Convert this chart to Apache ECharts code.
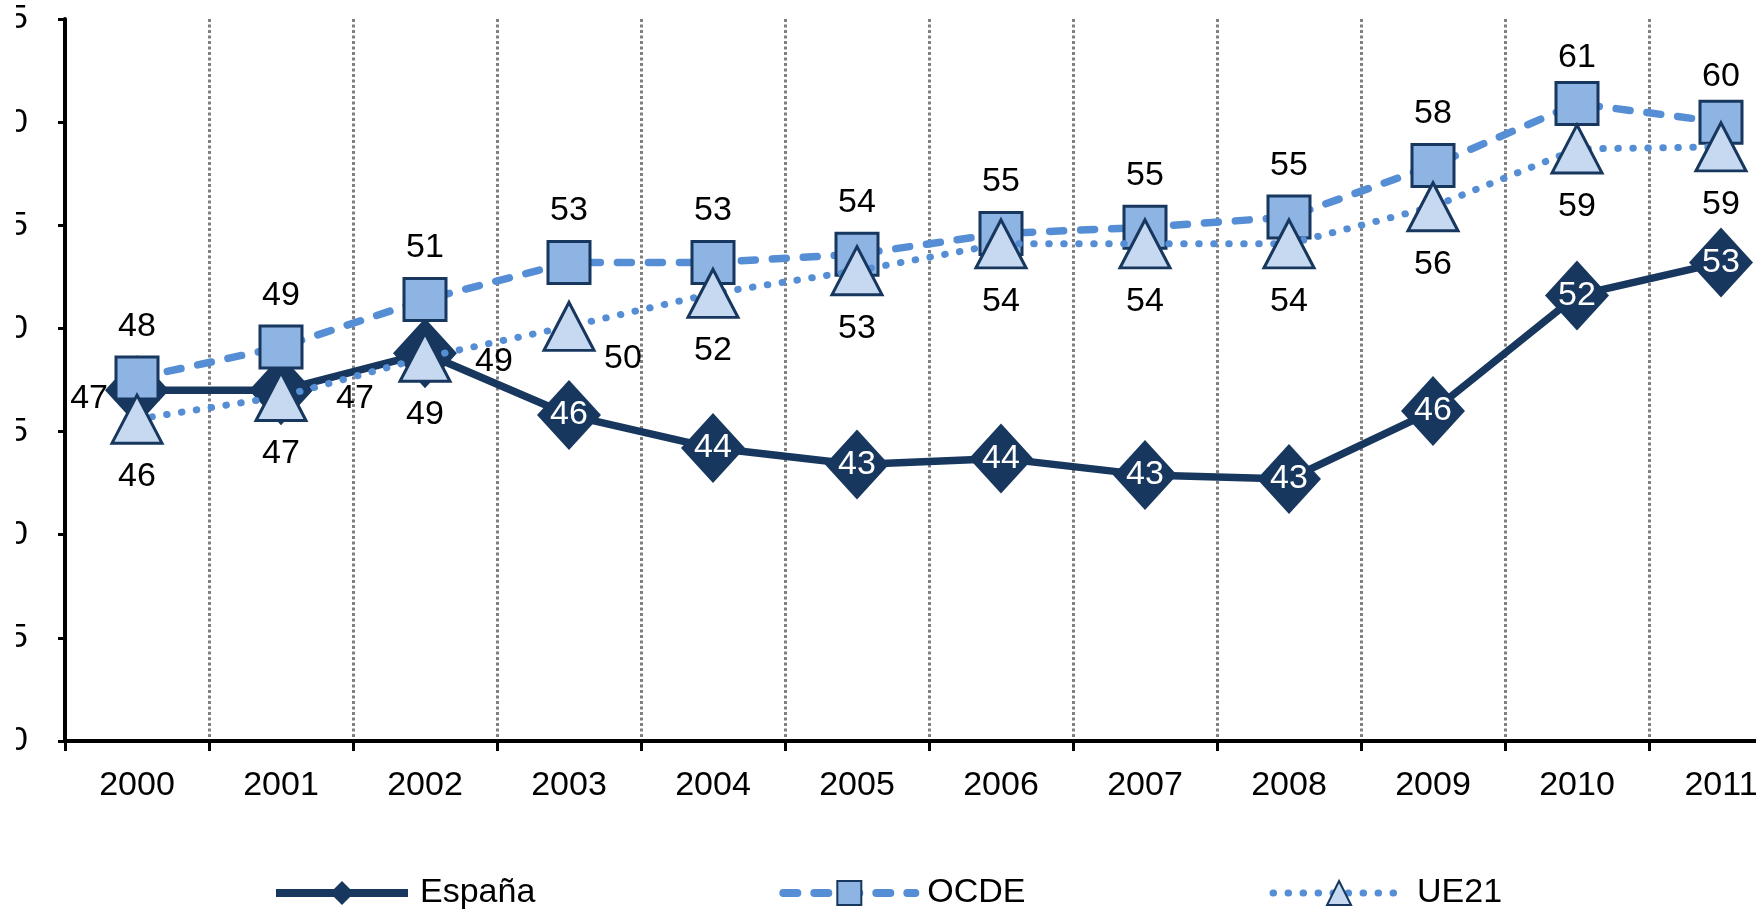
<!DOCTYPE html>
<html><head><meta charset="utf-8">
<script src="https://cdn.jsdelivr.net/npm/echarts@6/dist/echarts.min.js"></script>
<style>
html,body{margin:0;padding:0;background:#fff;width:1756px;height:912px;overflow:hidden}
#clip{position:absolute;left:16px;top:0;width:1740px;height:912px;overflow:hidden;background:#fff}
#chart{position:absolute;left:-40px;top:0;width:1900px;height:912px}
</style></head><body>
<div id="clip"><div id="chart"></div></div>
<script>
const years = ['2000','2001','2002','2003','2004','2005','2006','2007','2008','2009','2010','2011'];
const espana = [47.0, 47.0, 48.8, 45.8, 44.2, 43.4, 43.7, 42.9, 42.7, 46.0, 51.6, 53.2];
const ocde   = [47.6, 49.1, 51.4, 53.2, 53.2, 53.6, 54.6, 54.9, 55.4, 57.9, 60.9, 60.0];
const ue21   = [45.6, 46.7, 48.6, 50.1, 51.7, 52.8, 54.1, 54.1, 54.1, 55.9, 58.7, 58.8];
const yMin = 30, yMax = 65, yStep = 5;
const seriesNames = ['España', 'OCDE', 'UE21'];

const FONT = "'Liberation Sans', Arial, sans-serif";
const FS = 34;
const NAVY = '#17375e';
const MID = '#558ed5';
const round = p => Math.round(p.value);

const espanaData = espana.map((v, i) => {
  let label;
  if (i === 0) label = {position: 'left', distance: -3, offset: [0, 8]};
  else if (i === 1) label = {position: 'right', distance: 23, offset: [0, 8]};
  else if (i === 2) label = {position: 'right', distance: 18, offset: [0, 8]};
  else label = {position: 'inside', color: '#fff'};
  return {value: v, label};
});
const ocdeData = ocde.map((v, i) => i >= 10 ? {value: v, label: {offset: [0, 6]}} : {value: v});
const ue21Data = ue21.map((v, i) => i === 3 ? {value: v, label: {offset: [54, -25]}} : {value: v});

const chart = echarts.init(document.getElementById('chart'), null, {renderer: 'canvas'});
chart.setOption({
  animation: false,
  backgroundColor: '#fff',
  textStyle: {fontFamily: FONT},
  grid: {left: 89, top: 19, width: 1728, height: 722, containLabel: false},
  legend: {
    data: [
      {name: seriesNames[0], lineStyle: {width: 8}},
      {name: seriesNames[1], lineStyle: {width: 8}},
      {name: seriesNames[2], lineStyle: {width: 7}}
    ],
    left: 296, top: 876, padding: 0,
    itemWidth: 132, itemHeight: 30, itemGap: 244,
    selectedMode: false,
    textStyle: {fontSize: FS, fontFamily: FONT, color: '#000', padding: [0, 0, 0, 7]}
  },
  xAxis: {
    type: 'category', data: years, boundaryGap: true,
    axisLine: {show: true, lineStyle: {color: '#000', width: 4}},
    axisTick: {show: true, interval: 0, length: 10, lineStyle: {color: '#000', width: 3}},
    axisLabel: {interval: 0, margin: 28, fontSize: FS, fontFamily: FONT, color: '#000'},
    splitLine: {show: true, interval: 0, lineStyle: {color: '#808080', width: 3, type: [3, 2.5]}}
  },
  yAxis: {
    type: 'value', min: yMin, max: yMax, interval: yStep,
    axisLine: {show: true, lineStyle: {color: '#000', width: 4}},
    axisTick: {show: true, length: 7, lineStyle: {color: '#000', width: 3}},
    axisLabel: {margin: 37, fontSize: FS, fontFamily: FONT, color: '#000'},
    splitLine: {show: false}
  },
  series: [
    {
      name: seriesNames[0], type: 'line', z: 2, data: espanaData,
      color: NAVY,
      symbol: 'diamond', symbolSize: [64, 70],
      lineStyle: {color: NAVY, width: 7.5},
      itemStyle: {color: NAVY, borderWidth: 0},
      label: {show: true, formatter: round, fontSize: FS, fontFamily: FONT, color: '#000'},
      emphasis: {disabled: true}
    },
    {
      name: seriesNames[1], type: 'line', z: 3, data: ocdeData,
      color: MID,
      symbol: 'rect', symbolSize: 42,
      lineStyle: {color: MID, width: 7.5, type: [14, 17], cap: 'round'},
      itemStyle: {color: '#8eb4e3', borderColor: NAVY, borderWidth: 3},
      label: {show: true, position: 'top', distance: 12, formatter: round, fontSize: FS, fontFamily: FONT, color: '#000'},
      emphasis: {disabled: true}
    },
    {
      name: seriesNames[2], type: 'line', z: 4, data: ue21Data,
      color: MID,
      symbol: 'triangle', symbolSize: [50, 48],
      lineStyle: {color: MID, width: 7, type: [0.5, 14.5], cap: 'round'},
      itemStyle: {color: '#c6d9f1', borderColor: NAVY, borderWidth: 3},
      label: {show: true, position: 'bottom', distance: 15, formatter: round, fontSize: FS, fontFamily: FONT, color: '#000'},
      emphasis: {disabled: true}
    }
  ]
});
</script>
</body></html>
